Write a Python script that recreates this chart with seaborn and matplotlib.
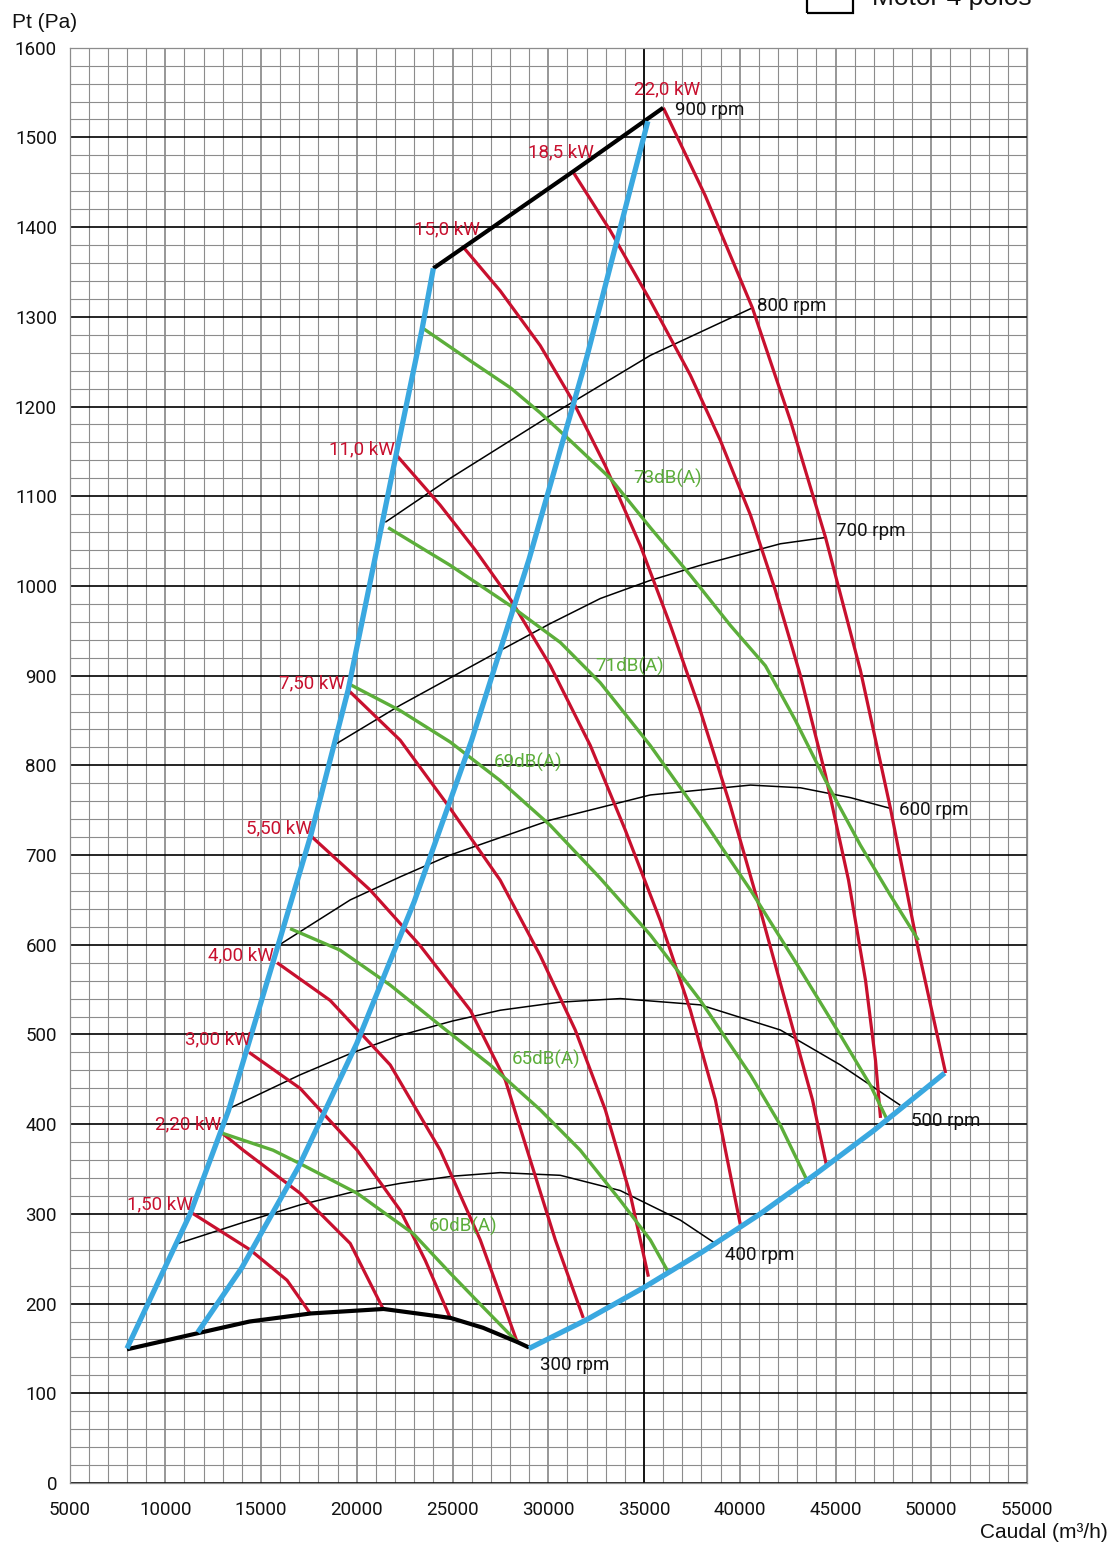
import numpy as np
import pandas as pd
import matplotlib
matplotlib.use("Agg")
import matplotlib.pyplot as plt
import seaborn as sns
from matplotlib.patches import Rectangle

# ---------------- data (Q in m3/h, Pt in Pa) ----------------
# system / limit curves (blue)
blue_left_q = [8000, 11300, 13300, 15900, 17600, 19550, 21300, 22100, 23400, 24000]
blue_left_p = [150, 300, 415, 600, 722, 884, 1067, 1151, 1285, 1354]
blue_mid_q = [11700, 14000, 17000, 20000, 23000, 26000, 29000, 32000, 35200]
blue_mid_p = [168, 240, 354, 490, 648, 828, 1030, 1254, 1518]
blue_right_q = [29000, 32000, 35000, 38000, 41000, 44000, 47000, 50700]
blue_right_p = [150, 182, 218, 257, 299, 345, 393, 457]

# rpm curves (black)
rpm300_q = [8000, 11700, 14400, 17600, 21400, 24900, 26600, 28400, 29000]
rpm300_p = [149, 167, 180, 189, 194, 184, 173, 157, 151]
rpm400_q = [10670, 14000, 17040, 19700, 22270, 25000, 27490, 30630, 33760, 36900, 38730]
rpm400_p = [267, 290, 310, 324, 334, 342, 346, 343, 326, 293, 267]
rpm500_q = [13390, 17040, 19700, 22270, 25000, 27490, 30600, 33760, 37940, 42120, 45260, 48390]
rpm500_p = [418, 455, 479, 499, 515, 527, 536, 540, 533, 505, 466, 421]
rpm600_q = [15890, 19660, 22300, 24880, 30110, 35330, 40560, 43170, 45780, 47870]
rpm600_p = [599, 650, 676, 700, 739, 767, 778, 775, 764, 752]
rpm700_q = [18770, 22270, 27490, 30100, 32720, 35300, 37940, 42120, 44480]
rpm700_p = [822, 867, 928, 958, 986, 1006, 1023, 1047, 1054]
rpm800_q = [21490, 24880, 30110, 35330, 40660]
rpm800_p = [1071, 1120, 1190, 1257, 1310]
rpm900_q = [24000, 31300, 36000]
rpm900_p = [1354, 1462, 1533]
rpm_labels = ["300 rpm", "400 rpm", "500 rpm", "600 rpm", "700 rpm", "800 rpm", "900 rpm"]
rpm_label_q = [29580, 39250, 48920, 48290, 45050, 40920, 36640]
rpm_label_p = [131, 254, 404, 750, 1061, 1312, 1531]

# power curves (red)
kw150_q = [11400, 14430, 16360, 17570]
kw150_p = [301, 260, 226, 189]
kw220_q = [12970, 14070, 17040, 19660, 21380]
kw220_p = [390, 371, 323, 267, 194]
kw300_q = [14380, 17040, 20020, 22270, 23580, 24880]
kw300_p = [480, 440, 371, 304, 248, 184]
kw400_q = [15840, 18610, 21750, 24360, 26450, 28380]
kw400_p = [580, 538, 466, 371, 271, 157]
kw550_q = [17570, 20700, 23310, 25930, 27760, 28900, 30370, 31830]
kw550_p = [722, 661, 599, 527, 449, 371, 271, 184]
kw750_q = [19550, 22270, 24880, 27490, 29580, 31410, 32980, 34290, 35230]
kw750_p = [884, 828, 752, 672, 588, 505, 416, 321, 230]
kw110_q = [22110, 24360, 26190, 28120, 30110, 32200, 34020, 35850, 37420, 38730, 40030]
kw110_p = [1145, 1090, 1040, 982, 911, 822, 728, 627, 527, 427, 288]
kw150b_q = [25510, 27490, 29580, 31260, 32980, 34810, 36380, 37940, 39510, 41080, 42650, 43800, 44530]
kw150b_p = [1379, 1329, 1268, 1207, 1134, 1045, 956, 861, 755, 638, 516, 427, 354]
kw185_q = [31310, 33240, 35330, 37420, 38990, 40560, 41860, 43170, 44480, 45680, 46570, 47090, 47350]
kw185_p = [1461, 1396, 1318, 1235, 1162, 1079, 995, 900, 789, 672, 560, 471, 407]
kw220b_q = [36010, 38200, 40660, 42650, 44480, 46300, 47870, 49330, 50750]
kw220b_p = [1533, 1435, 1310, 1184, 1054, 906, 752, 594, 457]
kw_labels = ["1,50 kW", "2,20 kW", "3,00 kW", "4,00 kW", "5,50 kW", "7,50 kW",
             "11,0 kW", "15,0 kW", "18,5 kW", "22,0 kW"]
kw_label_q = [8000, 9470, 11040, 12240, 14220, 15950, 18560, 23000, 28960, 34500]
kw_label_p = [311, 400, 495, 588, 730, 891, 1152, 1398, 1483, 1554]

# noise curves (green)
db60_q = [12970, 15630, 17040, 20020, 22950, 24880, 26600, 28430]
db60_p = [390, 371, 356, 323, 278, 234, 196, 156]
db65_q = [16520, 19130, 21750, 24360, 26970, 29580, 31670, 33760, 35330, 36270]
db65_p = [618, 594, 555, 510, 466, 416, 371, 315, 271, 235]
db69_q = [19660, 22270, 24880, 27490, 30110, 32720, 35330, 37940, 40560, 42120, 43590]
db69_p = [890, 861, 826, 783, 733, 674, 611, 538, 455, 399, 334]
db71_q = [21640, 24880, 28020, 30630, 32720, 35330, 37940, 40560, 43170, 45260, 46830, 47720]
db71_p = [1065, 1023, 978, 937, 892, 822, 744, 661, 572, 499, 443, 404]
db73_q = [23470, 25930, 28020, 29580, 31150, 33240, 35330, 37420, 39510, 41340, 42910, 44480, 46300, 47870, 49330]
db73_p = [1287, 1251, 1221, 1193, 1162, 1120, 1065, 1012, 956, 911, 850, 783, 711, 655, 605]
db_labels = ["60dB(A)", "65dB(A)", "69dB(A)", "71dB(A)", "73dB(A)"]
db_label_q = [23760, 28070, 27130, 32460, 34440]
db_label_p = [286, 472, 803, 910, 1120]

x_ticks = list(range(5000, 55001, 5000))
y_ticks = list(range(0, 1601, 100))

# ---------------- styling ----------------
RED = "#c8102e"
GREEN = "#5cae3a"
BLUE = "#3aa8e0"
LABEL_FONT = ["Roboto", "DejaVu Sans"]
TITLE_FONT = ["Liberation Sans", "DejaVu Sans"]

sns.set_theme(style="white")
plt.rcParams["font.family"] = LABEL_FONT

W, H = 1112, 1545
fig = plt.figure(figsize=(W / 100, H / 100), dpi=100)
ax = fig.add_axes([69.5 / W, (H - 1483) / H, (1027 - 69.5) / W, (1483 - 47.7) / H])
ax.set_xlim(5000, 55000)
ax.set_ylim(0, 1600)

ax.set_xticks(x_ticks)
ax.set_yticks(y_ticks)
ax.set_xticks(range(5000, 55001, 1000), minor=True)
ax.set_yticks(range(0, 1601, 20), minor=True)
ax.set_xticklabels([str(v) for v in x_ticks])
ax.set_yticklabels([str(v) for v in y_ticks])
ax.set_axisbelow(True)
ax.grid(which="minor", color="#8c8c8c", lw=0.8)
ax.grid(which="major", axis="x", color="#7a7a7a", lw=1.1)
ax.grid(which="major", axis="y", color="black", lw=1.2)
ax.axvline(35000, color="black", lw=1.2, zorder=0.6)
ax.tick_params(which="minor", length=0)
ax.tick_params(which="major", axis="both", length=5, width=1, color="#777777",
               direction="out", labelsize=13.5, labelcolor="#111111")
ax.tick_params(axis="x", pad=8)
ax.tick_params(axis="y", pad=4)
for s in ax.spines.values():
    s.set_color("#8c8c8c")
    s.set_linewidth(0.9)


def curve(q, p, color, lw, z):
    sns.lineplot(x=q, y=p, sort=False, estimator=None, color=color, lw=lw,
                 ax=ax, zorder=z, legend=False, solid_capstyle="butt",
                 solid_joinstyle="round")


for q, p in [(rpm400_q, rpm400_p), (rpm500_q, rpm500_p), (rpm600_q, rpm600_p),
             (rpm700_q, rpm700_p), (rpm800_q, rpm800_p)]:
    curve(q, p, "black", 1.1, 3)

for q, p in [(kw150_q, kw150_p), (kw220_q, kw220_p), (kw300_q, kw300_p),
             (kw400_q, kw400_p), (kw550_q, kw550_p), (kw750_q, kw750_p),
             (kw110_q, kw110_p), (kw150b_q, kw150b_p), (kw185_q, kw185_p),
             (kw220b_q, kw220b_p)]:
    curve(q, p, RED, 2.3, 4)

for q, p in [(db60_q, db60_p), (db65_q, db65_p), (db69_q, db69_p),
             (db71_q, db71_p), (db73_q, db73_p)]:
    curve(q, p, GREEN, 2.4, 5)

curve(rpm300_q, rpm300_p, "black", 3.0, 6)
curve(rpm900_q, rpm900_p, "black", 3.0, 6)

for q, p in [(blue_left_q, blue_left_p), (blue_mid_q, blue_mid_p),
             (blue_right_q, blue_right_p)]:
    curve(q, p, BLUE, 3.8, 7)

for t, q, p in zip(kw_labels, kw_label_q, kw_label_p):
    ax.text(q, p, t, color=RED, fontsize=13.5, ha="left", va="center", zorder=8)
for t, q, p in zip(db_labels, db_label_q, db_label_p):
    ax.text(q, p, t, color=GREEN, fontsize=13.5, ha="left", va="center", zorder=8)
for t, q, p in zip(rpm_labels, rpm_label_q, rpm_label_p):
    ax.text(q, p, t, color="#111111", fontsize=13.5, ha="left", va="center", zorder=8)

ax.set_xlabel("")
ax.set_ylabel("")

# axis titles and legend stub (cut at the top edge as in the reference)
fig.text(12 / W, 1 - 22 / H, "Pt (Pa)", fontsize=15, family=TITLE_FONT,
         ha="left", va="center", color="#111111")
fig.text(1108 / W, 1 - 1533 / H, "Caudal (m³/h)", fontsize=15,
         family=TITLE_FONT, ha="right", va="center", color="#111111")
fig.text(872 / W, 1 - 5 / H, "Motor 4 polos", fontsize=19,
         family=TITLE_FONT, ha="left", va="baseline", color="#111111")
fig.patches.append(Rectangle((807 / W, 1 - 13 / H), 46 / W, 40 / H, transform=fig.transFigure,
                             fill=False, edgecolor="black", lw=1.6))

fig.savefig("out.png", dpi=100)
